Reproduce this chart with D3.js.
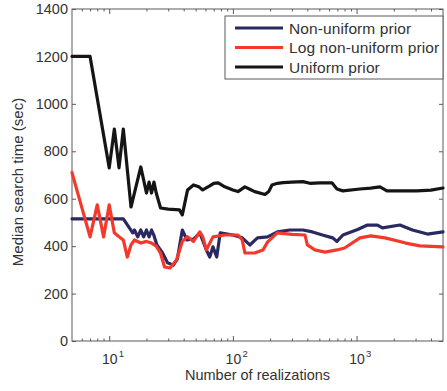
<!DOCTYPE html>
<html>
<head>
<meta charset="utf-8">
<script src="https://cdn.jsdelivr.net/npm/d3@7"></script>
<style>
  body { margin: 0; background: #fff; }
  svg { display: block; font-family: "Liberation Sans", Arial, sans-serif; }
</style>
</head>
<body>
<svg id="chart" width="447" height="391"></svg>
<script>
// Median search time vs. number of realizations, [N, seconds]
const nonUniform = [
  [5,515],[8,515],[11,515],[13,515],[15.5,456],[16,468],[17,439],[18,468],[19,439],[20,468],
  [21,439],[22,468],[23,445],[24.3,405],[27,371],[29.6,330],[33,320],[35.5,345],[39,468],
  [42.5,426],[48,430],[54,456],[61,384],[65,354],[69,397],[74,354],[79,456],[100,447],
  [119,435],[137,405],[158,435],[191,439],[229,460],[289,468],[368,468],[440,460],
  [530,447],[640,435],[694,420],[776,447],[1020,470],[1225,489],[1475,489],[1620,477],
  [2242,489],[2830,468],[3740,451],[5000,460]
];
const logNonUniform = [
  [5,710],[7,439],[8,574],[9,439],[10,574],[11,456],[12,440],[13,426],[14,354],[15,405],
  [16,426],[18,413],[20,420],[22,413],[24,400],[26,370],[28,312],[31,308],[35,342],
  [39,420],[43,440],[48,420],[54,460],[57,440],[61,384],[69,439],[86,447],[110,447],
  [119,426],[125,371],[150,371],[175,384],[191,418],[229,456],[300,450],[383,447],
  [400,405],[460,384],[555,375],[694,384],[800,392],[1065,435],[1300,443],[1700,435],
  [2500,413],[3250,401],[5000,397]
];
const uniform = [
  [5,1200],[6,1200],[7,1200],[10,730],[11,894],[12,730],[13,894],[15,565],[18,734],
  [20,624],[21,670],[22,624],[23,670],[24,624],[26,561],[30,556],[37,553],[39,532],
  [43,637],[48,658],[53,650],[57,637],[65,654],[70,665],[76,667],[86,650],[100,637],
  [110,630],[125,650],[137,640],[150,630],[182,618],[195,630],[207,658],[230,665],
  [254,668],[300,670],[368,672],[420,665],[506,667],[632,667],[694,641],[776,633],
  [1065,641],[1300,645],[1545,650],[1761,633],[2500,633],[3075,633],[4000,636],[5000,645]
];

const seriesNames = ["Non-uniform prior", "Log non-uniform prior", "Uniform prior"];
const seriesColors = ["#2a2960", "#f2392b", "#151515"];
const seriesData = [nonUniform, logNonUniform, uniform];

const xMajorTicks = [10, 100, 1000];
const xMinorTicks = [6,7,8,9,20,30,40,50,60,70,80,90,200,300,400,500,600,700,800,900,2000,3000,4000];
const yTicks = [0, 200, 400, 600, 800, 1000, 1200, 1400];

const svg = d3.select("#chart");
const margin = { left: 72, right: 4, top: 9, bottom: 50 };
const W = 447, H = 391;

const x = d3.scaleLog().domain([5, 5000]).range([margin.left, W - margin.right]);
const y = d3.scaleLinear().domain([0, 1400]).range([H - margin.bottom, margin.top]);

const axisColor = "#5a5a5a";
const textColor = "#333";

// frame
svg.append("rect")
  .attr("x", x.range()[0]).attr("y", y.range()[1])
  .attr("width", x.range()[1] - x.range()[0])
  .attr("height", y.range()[0] - y.range()[1])
  .attr("fill", "none").attr("stroke", axisColor).attr("stroke-width", 1);

function styleAxis(g) {
  g.select(".domain").remove();
  g.selectAll(".tick line").attr("stroke", axisColor);
  g.selectAll("text").attr("fill", textColor);
}

// bottom axis: major and minor ticks pointing inward
svg.append("g").attr("transform", `translate(0,${y(0)})`)
  .call(d3.axisBottom(x).tickValues(xMinorTicks).tickSize(-2.5).tickFormat(""))
  .call(styleAxis);
const xMajor = svg.append("g").attr("transform", `translate(0,${y(0)})`)
  .call(d3.axisBottom(x).tickValues(xMajorTicks).tickSize(-5).tickFormat(""))
  .call(styleAxis);
xMajor.selectAll(".tick").each(function(d) {
  const g = d3.select(this);
  g.append("text")
    .attr("y", 23).attr("text-anchor", "middle")
    .attr("fill", textColor).attr("font-size", 14)
    .text("10");
  g.append("text")
    .attr("x", 9).attr("y", 16).attr("text-anchor", "start")
    .attr("fill", textColor).attr("font-size", 9.5)
    .text(String(Math.round(Math.log10(d))));
});

// top axis mirror
svg.append("g").attr("transform", `translate(0,${y(1400)})`)
  .call(d3.axisTop(x).tickValues(xMinorTicks).tickSize(-2.5).tickFormat(""))
  .call(styleAxis);
svg.append("g").attr("transform", `translate(0,${y(1400)})`)
  .call(d3.axisTop(x).tickValues(xMajorTicks).tickSize(-5).tickFormat(""))
  .call(styleAxis);

// left axis
svg.append("g").attr("transform", `translate(${x(5)},0)`)
  .call(d3.axisLeft(y).tickValues(yTicks).tickSize(-4).tickPadding(4).tickFormat(d3.format("d")))
  .call(styleAxis)
  .selectAll("text").attr("font-size", 14.5).attr("font-family", "Liberation Sans, Arial, sans-serif");
// right axis
svg.append("g").attr("transform", `translate(${x(5000)},0)`)
  .call(d3.axisRight(y).tickValues(yTicks).tickSize(-4).tickFormat(""))
  .call(styleAxis);

// axis titles
svg.append("text")
  .attr("x", (x.range()[0] + x.range()[1]) / 2).attr("y", 380)
  .attr("text-anchor", "middle").attr("font-size", 14.5).attr("fill", textColor)
  .text("Number of realizations");
svg.append("text")
  .attr("transform", `translate(23,${(y.range()[0] + y.range()[1]) / 2 + 7}) rotate(-90)`)
  .attr("text-anchor", "middle").attr("font-size", 15).attr("fill", textColor)
  .text("Median search time (sec)");

// series lines
const line = d3.line().x(d => x(d[0])).y(d => y(d[1]));
const plot = svg.append("g");
seriesData.forEach((data, i) => {
  plot.append("path")
    .datum(data)
    .attr("d", line)
    .attr("fill", "none")
    .attr("stroke", seriesColors[i])
    .attr("stroke-width", 3.2)
    .attr("stroke-linejoin", "round")
    .attr("stroke-linecap", "round");
});

// legend
const legend = svg.append("g").attr("transform", "translate(225,16)");
legend.append("rect")
  .attr("width", 218).attr("height", 63)
  .attr("fill", "#fff").attr("stroke", axisColor).attr("stroke-width", 1);
seriesNames.forEach((name, i) => {
  const cy = 12 + i * 19.5;
  legend.append("line")
    .attr("x1", 10).attr("x2", 58).attr("y1", cy).attr("y2", cy)
    .attr("stroke", seriesColors[i]).attr("stroke-width", 3);
  legend.append("text")
    .attr("x", 64).attr("y", cy + 5.5)
    .attr("font-size", 15.5).attr("letter-spacing", 0.1).attr("fill", textColor)
    .text(name);
});
</script>
</body>
</html>
